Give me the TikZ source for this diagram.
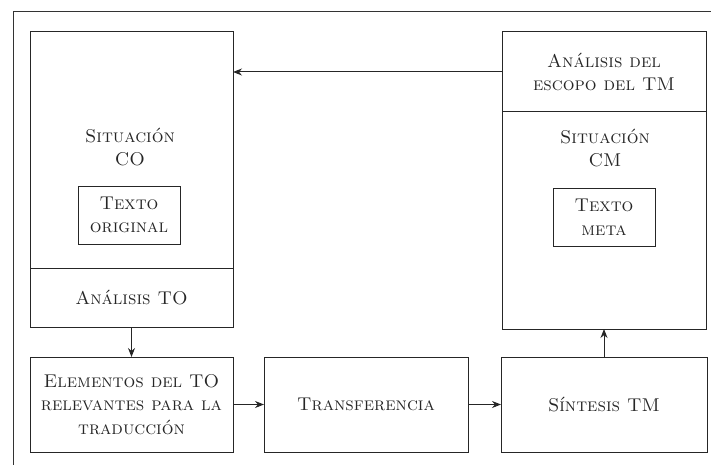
\documentclass[tikz,border=0pt]{standalone}
\usepackage{fontspec}
\usepackage{tikz}
\usetikzlibrary{arrows.meta,positioning}

\begin{document}
\begin{tikzpicture}[
    x=1pt, y=-1pt,
    node distance=30pt and 31pt,
    box/.style={rectangle, draw=black!85, line width=1pt, outer sep=0pt, align=center, minimum width=203pt, font=\fontsize{18.5}{23.5}\selectfont\scshape, text=black!85},
    inbox/.style={rectangle, draw=black!85, line width=1pt, align=center, minimum width=102pt, minimum height=58pt, inner sep=0pt, font=\fontsize{18.5}{23.5}\selectfont\scshape, text=black!85},
    lbl/.style={align=center, font=\fontsize{18.5}{23.5}\selectfont\scshape, text=black!85},
    arrow/.style={-{Stealth[length=9pt, width=7pt]}, line width=1pt, draw=black!85}
]
    \useasboundingbox (0,0) rectangle (711,465);
    % frame of the page
    \draw [line width=1pt, black!80] (13,465) -- (13,12) -- (711,12);

    % left column
    \node [box, minimum height=236pt] (sitco) at (131.5,150) {};
    \node [lbl] (lblco) at (130,147) {Situación\\CO};
    \node [inbox] (txtor) at (129,215) {Texto\\original};
    \node [box, minimum height=59pt, below=0pt of sitco] (anato) {Análisis TO};

    % bottom row
    \node [box, minimum height=95pt, below=of anato] (elem) {Elementos del TO\\relevantes para la\\traducción};
    \node [box, minimum height=95pt, minimum width=204pt, right=of elem] (transf) {Transferencia};
    \node [box, minimum height=95pt, minimum width=206pt, right=33pt of transf] (sint) {Síntesis TM};

    % right column
    \node [box, minimum height=217pt, minimum width=204pt, above=28pt of sint] (sitcm) {};
    \node [box, minimum height=80pt, minimum width=204pt, above=0pt of sitcm] (anaesc) {Análisis del\\escopo del TM};
    \node [lbl] (lblcm) at (605,148) {Situación\\CM};
    \node [inbox] (txtmeta) at (604,217) {Texto\\meta};

    \draw [arrow] (anaesc.west) -- (anaesc.west -| sitco.east);
    \draw [arrow] (anato) -- (elem);
    \draw [arrow] (elem) -- (transf);
    \draw [arrow] (transf) -- (sint);
    \draw [arrow] (sint.north) -- (sint.north |- sitcm.south);
\end{tikzpicture}
\end{document}
